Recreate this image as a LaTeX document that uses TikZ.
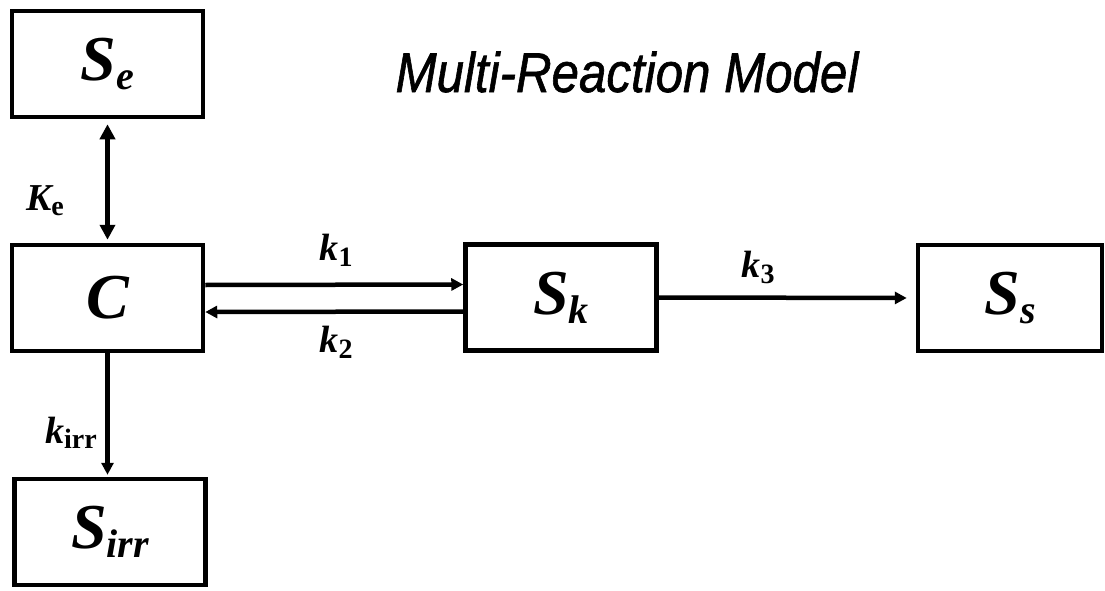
\documentclass[tikz,border=0pt]{standalone}
\usepackage{fontspec}
\setmainfont{Liberation Serif}
\newfontfamily\titlefont[FakeBold=1.2]{Liberation Sans}
\usetikzlibrary{arrows.meta}
\newcommand{\subs}[3]{\raisebox{-#1pt}{\fontsize{#2pt}{#2pt}\selectfont #3}}
\tikzset{
  box/.style={draw, line width=4.5pt, minimum width=191pt, minimum height=106pt, inner sep=0pt,
    font=\fontsize{64pt}{64pt}\selectfont\bfseries\itshape},
  arr/.style={line width=4.5pt, -{Triangle[length=12pt,width=12pt]}},
  darr/.style={line width=4.5pt, {Triangle[length=15pt,width=15pt]}-{Triangle[length=15pt,width=15pt]}},
  lab/.style={inner sep=0pt, font=\fontsize{38pt}{38pt}\selectfont\bfseries\itshape}
}
\begin{document}
\begin{tikzpicture}[x=1pt,y=1pt]
\useasboundingbox (0,0) rectangle (1105,-591);
\node[box] (Se) at (107.5,-64) {S\subs{9}{40}{e}};
\node[box] (C) at (107.5,-298) {C};
\node[box] (Sirr) at (110,-532) {S\subs{9}{40}{irr}};
\node[box] (Sk) at (561,-297.5) {S\subs{9}{40}{k}};
\node[box, minimum width=184pt] (Ss) at (1010,-298) {S\subs{9}{40}{s}};
\node[inner sep=0pt, font=\fontsize{56pt}{56pt}\selectfont\titlefont\itshape, xscale=0.88] (title) at (627,-72) {Multi-Reaction Model};
\draw[darr, shorten <=5pt, shorten >=3pt] (Se.south) -- (C.north);
\draw[arr] ([yshift=13pt]C.east) -- ([yshift=13pt]Sk.west);
\draw[arr] ([yshift=-14pt]Sk.west) -- ([yshift=-14pt]C.east);
\draw[arr, shorten >=9pt] (Sk.east) -- (Ss.west);
\draw[arr, shorten >=2pt] (C.south) -- (C.south |- Sirr.north);
\node[lab] (Ke) at (45,-201) {K\subs{5}{28}{\upshape e}};
\node[lab] (k1) at (336,-250) {k\subs{6}{28}{\upshape 1}};
\node[lab] (k2) at (336,-342) {k\subs{6}{28}{\upshape 2}};
\node[lab] (k3) at (758,-267) {k\subs{6}{28}{\upshape 3}};
\node[lab] (kirr) at (71,-433) {k\subs{5}{28}{\upshape irr}};
\end{tikzpicture}
\end{document}
